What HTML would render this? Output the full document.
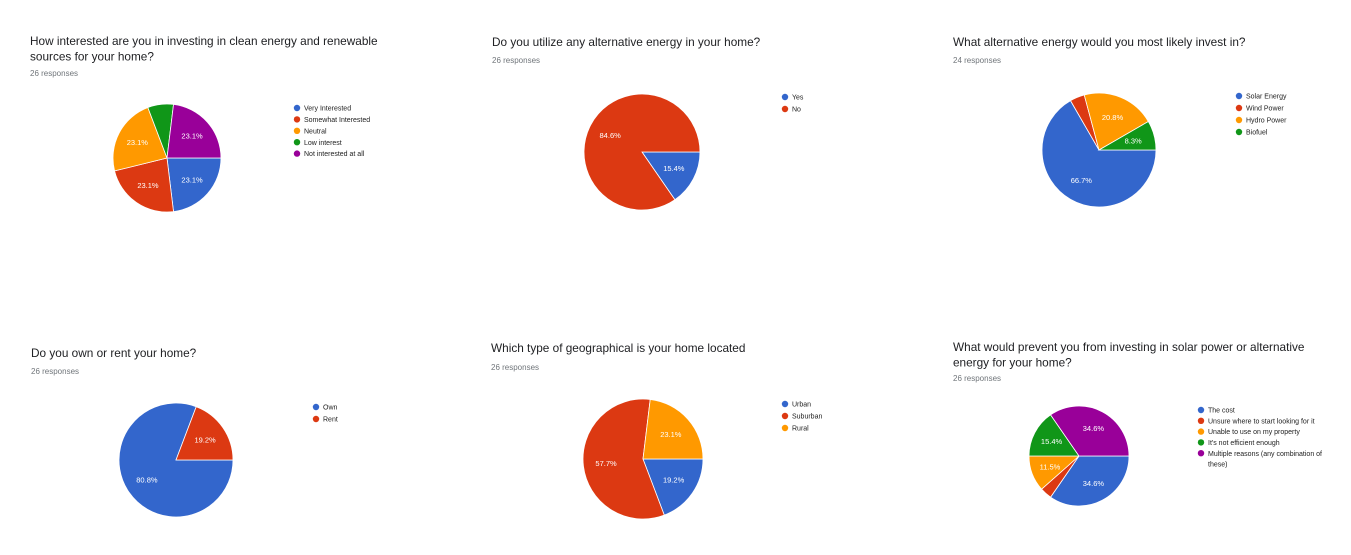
<!DOCTYPE html>
<html><head><meta charset="utf-8">
<style>
body{margin:0;background:#fff;width:1351px;height:555px;overflow:hidden;font-family:"Liberation Sans",Arial,sans-serif;}
svg{display:block}
</style></head>
<body>
<svg id="s" width="1351" height="555" xmlns="http://www.w3.org/2000/svg"></svg>
<script>
const colors = ["#3366cc","#dc3912","#ff9900","#109618","#990099"];
const c1Labels = ["Very Interested","Somewhat Interested","Neutral","Low interest","Not interested at all"];
const c1Values = [6,6,6,2,6];
const c2Labels = ["Yes","No"];
const c2Values = [4,22];
const c3Labels = ["Solar Energy","Wind Power","Hydro Power","Biofuel"];
const c3Values = [16,1,5,2];
const c4Labels = ["Own","Rent"];
const c4Values = [21,5];
const c5Labels = ["Urban","Suburban","Rural"];
const c5Values = [5,15,6];
const c6Labels = ["The cost","Unsure where to start looking for it","Unable to use on my property","It's not efficient enough","Multiple reasons (any combination of","these)"];
const c6Values = [9,1,3,4,9];

const charts = [
 {name:"interest-chart",title:["How interested are you in investing in clean energy and renewable","sources for your home?"],tx:30,ty:45,resp:"26 responses",ry:76,cx:167,cy:158,r:54,labels:c1Labels,values:c1Values,lx:297,ly:108,ls:11.4},
 {name:"alt-energy-use-chart",title:["Do you utilize any alternative energy in your home?"],tx:492,ty:46,resp:"26 responses",ry:63,cx:642,cy:152,r:58,labels:c2Labels,values:c2Values,lx:785,ly:97,ls:12},
 {name:"invest-type-chart",title:["What alternative energy would you most likely invest in?"],tx:953,ty:46,resp:"24 responses",ry:63,cx:1099,cy:150,r:57,labels:c3Labels,values:c3Values,lx:1239,ly:96,ls:12},
 {name:"own-rent-chart",title:["Do you own or rent your home?"],tx:31,ty:357,resp:"26 responses",ry:374,cx:176,cy:460,r:57,labels:c4Labels,values:c4Values,lx:316,ly:407,ls:12},
 {name:"geography-chart",title:["Which type of geographical is your home located"],tx:491,ty:352,resp:"26 responses",ry:370,cx:643,cy:459,r:60,labels:c5Labels,values:c5Values,lx:785,ly:404,ls:12},
 {name:"prevent-chart",title:["What would prevent you from investing in solar power or alternative","energy for your home?"],tx:953,ty:351,resp:"26 responses",ry:381,cx:1079,cy:456,r:50,labels:c6Labels,values:c6Values,lx:1201,ly:410,ls:10.8}
];
const NS="http://www.w3.org/2000/svg";
const svg=document.getElementById('s');
function mk(t,a,p){const e=document.createElementNS(NS,t);for(const k in a)e.setAttribute(k,a[k]);(p||svg).appendChild(e);return e;}
charts.forEach(c=>{
  const g=mk('g',{});
  
  
  c.title.forEach((t,i)=>{
    const e=mk('text',{x:c.tx,y:c.ty+i*15.5,'font-size':11.8,fill:'#202124'},g);
    e.textContent=t;
    
    
  });
  const rr=mk('text',{x:c.tx,y:c.ry,'font-size':8,fill:'#70757a'},g);
  rr.textContent=c.resp;
  
  
  const tot=c.values.reduce((a,b)=>a+b,0);
  let a0=0;
  c.values.forEach((v,i)=>{
    const a1=a0+v/tot*2*Math.PI;
    const x0=c.cx+c.r*Math.cos(a0),y0=c.cy+c.r*Math.sin(a0);
    const x1=c.cx+c.r*Math.cos(a1),y1=c.cy+c.r*Math.sin(a1);
    const large=(a1-a0)>Math.PI?1:0;
    const p=mk('path',{d:`M${c.cx},${c.cy}L${x0},${y0}A${c.r},${c.r} 0 ${large} 1 ${x1},${y1}Z`,fill:colors[i],stroke:'#fff','stroke-width':0.8},g);
    
    
    const pct=v/tot*100;
    if(pct>=8){
      const m=(a0+a1)/2;
      const t=mk('text',{x:c.cx+c.r*0.62*Math.cos(m),y:c.cy+c.r*0.62*Math.sin(m)+2.5,'font-size':7.5,fill:'#fff','text-anchor':'middle'},g);
      t.textContent=pct.toFixed(1)+'%';
      
      
    }
    a0=a1;
  });
  c.labels.forEach((l,i)=>{
    const y=c.ly+i*c.ls;
    if(i<c.values.length){
      const d=mk('circle',{cx:c.lx,cy:y,r:3.2,fill:colors[i]},g);
      
      
    }
    const t=mk('text',{x:c.lx+7,y:y+2.6,'font-size':7,fill:'#222'},g);
    t.textContent=l;
    
    
  });
});
</script>
</body></html>
